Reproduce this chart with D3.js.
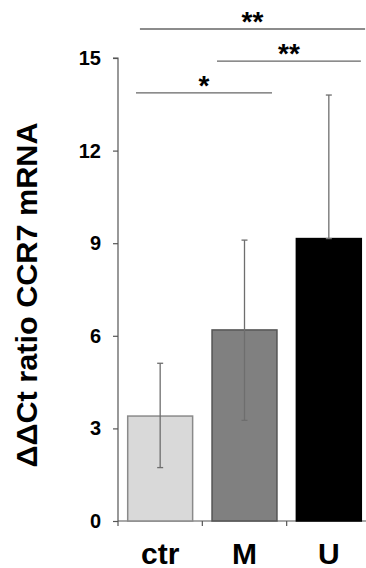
<!DOCTYPE html>
<html>
<head>
<meta charset="utf-8">
<script src="https://cdn.jsdelivr.net/npm/d3@7/dist/d3.min.js"></script>
<style>
html,body{margin:0;padding:0;background:#fff;}
svg{display:block;}
text{font-family:Arial,"Liberation Sans",Helvetica,sans-serif;font-weight:bold;fill:#000;}
</style>
</head>
<body>
<script>
const categories = ["ctr", "M", "U"];
const means = [3.40, 6.19, 9.15];
const errLow = [1.73, 3.26, 9.15];
const errHigh = [5.11, 9.10, 13.80];
const barColors = ["#d9d9d9", "#808080", "#000000"];
const barStrokes = ["#8a8a8a", "#555555", "#000000"];
const yTicks = [0, 3, 6, 9, 12, 15];
const yLabel = "ΔΔCt ratio CCR7 mRNA";
// significance brackets: start/end in band-step units, height in data units
const sigStart = [0.213, 1.174, 0.26];
const sigEnd = [1.826, 2.88, 2.93];
const sigLevel = [13.87, 14.9, 15.94];
const sigText = ["*", "**", "**"];

const W = 366, H = 568;
const svg = d3.select("body").append("svg").attr("width", W).attr("height", H);

const x = d3.scaleBand().domain(categories).range([118, 371]).paddingInner(0.23).paddingOuter(0.115);
const y = d3.scaleLinear().domain([0, 15]).range([521, 58]);
const step = x.step();
const xs = f => 118 + step * f;

// y axis
const yAxis = svg.append("g").attr("transform", "translate(118,0)")
  .call(d3.axisLeft(y).tickValues(yTicks).tickSize(5).tickPadding(12).tickFormat(d3.format("d")));
yAxis.select(".domain").attr("stroke", "#555").attr("stroke-width", 1.2).attr("d", `M-5,${y(15)}H0V${y(0)}`);
yAxis.selectAll(".tick line").attr("stroke", "#555").attr("stroke-width", 1.2);
yAxis.selectAll(".tick text").attr("font-size", 20).attr("font-weight", "bold").attr("fill", "#000")
  .attr("font-family", "Arial, 'Liberation Sans', sans-serif");

// x axis
const xAxis = svg.append("g").attr("transform", `translate(0,${y(0)})`)
  .call(d3.axisBottom(x).tickSize(0).tickPadding(20));
xAxis.select(".domain").attr("stroke", "#555").attr("stroke-width", 1.2).attr("d", `M118,0H371`);
xAxis.selectAll(".tick text").attr("font-size", 30).attr("font-weight", "bold").attr("fill", "#000")
  .attr("dy", "0.75em")
  .attr("font-family", "Arial, 'Liberation Sans', sans-serif");
// band boundary ticks
svg.append("g").selectAll("line").data(d3.range(categories.length + 1)).join("line")
  .attr("x1", d => xs(d)).attr("x2", d => xs(d))
  .attr("y1", y(0)).attr("y2", y(0) + 5)
  .attr("stroke", "#555").attr("stroke-width", 1.2);

// bars
svg.append("g").selectAll("rect").data(categories).join("rect")
  .attr("x", d => x(d)).attr("width", x.bandwidth())
  .attr("y", (d, i) => y(means[i])).attr("height", (d, i) => y(0) - y(means[i]))
  .attr("fill", (d, i) => barColors[i])
  .attr("stroke", (d, i) => barStrokes[i]).attr("stroke-width", 1.5);

// error bars
const eb = svg.append("g");
categories.forEach((c, i) => {
  const cx = x(c) + x.bandwidth() / 2;
  eb.append("line").attr("x1", cx).attr("x2", cx).attr("y1", y(errLow[i])).attr("y2", y(errHigh[i]))
    .attr("stroke", "#6e6e6e").attr("stroke-width", 1.3);
  [errLow[i], errHigh[i]].forEach(v => {
    eb.append("line").attr("x1", cx - 3).attr("x2", cx + 3).attr("y1", y(v)).attr("y2", y(v))
      .attr("stroke", "#6e6e6e").attr("stroke-width", 1.3);
  });
});

// significance
const sg = svg.append("g");
sigText.forEach((t, i) => {
  const x1 = xs(sigStart[i]), x2 = xs(sigEnd[i]), yy = y(sigLevel[i]);
  sg.append("line").attr("x1", x1).attr("x2", x2).attr("y1", yy).attr("y2", yy)
    .attr("stroke", "#666").attr("stroke-width", 1.4);
  sg.append("text").attr("x", (x1 + x2) / 2).attr("y", yy + 2).attr("text-anchor", "middle")
    .attr("font-size", 28).text(t);
});

// y label
svg.append("text")
  .attr("transform", "translate(37,295) rotate(-90)")
  .attr("text-anchor", "middle")
  .attr("font-size", 30)
  .attr("textLength", 345).attr("lengthAdjust", "spacingAndGlyphs")
  .text(yLabel);
</script>
</body>
</html>
